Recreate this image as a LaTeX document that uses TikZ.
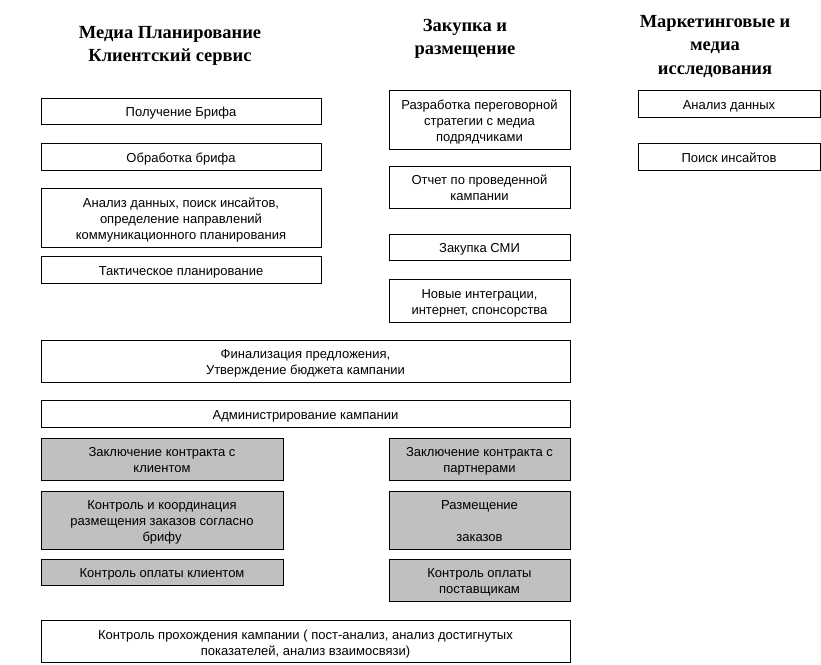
\documentclass[tikz,border=0pt]{standalone}
\usepackage{fontspec}
\setmainfont{Liberation Sans}
\newfontfamily\titlefont{Liberation Serif}
\newcommand\tstrut{\rule{0pt}{15pt}}
\newcommand\bstrut{\rule[-4pt]{0pt}{4pt}}
\begin{document}
\begin{tikzpicture}[x=1pt,y=-1pt,
  box/.style={draw=black,line width=0.8pt,fill=white,rectangle,align=center,inner sep=1pt,
    font=\fontsize{13}{16}\selectfont},
  gbox/.style={box,fill=gray75},
  ttl/.style={align=center,font=\titlefont\bfseries\fontsize{18.5}{23.3}\selectfont}]
\definecolor{gray75}{HTML}{C0C0C0}
\useasboundingbox (0,0) rectangle (821,664);
% titles
\node[ttl] (t1) at (170,46) {Медиа Планирование\\Клиентский сервис};
\node[ttl] (t2) at (465,39) {Закупка и\\размещение};
\node[ttl] (t3) at (715,46.5) {Маркетинговые и\\медиа\\исследования};
% left column
\node[box,minimum width=280pt,minimum height=26pt] (l1) at (181,111) {\tstrut Получение Брифа\bstrut};
\node[box,minimum width=280pt,minimum height=27pt] (l2) at (181,156.5) {\tstrut Обработка брифа\bstrut};
\node[box,minimum width=280pt,minimum height=59pt] (l3) at (181,217.5) {\tstrut Анализ данных, поиск инсайтов,\\определение направлений\\коммуникационного планирования\bstrut};
\node[box,minimum width=280pt,minimum height=27pt] (l4) at (181,269.5) {\tstrut Тактическое планирование\bstrut};
% middle column
\node[box,minimum width=181pt,minimum height=59pt] (m1) at (479.5,119.5) {\tstrut Разработка переговорной\\стратегии с медиа\\подрядчиками\bstrut};
\node[box,minimum width=181pt,minimum height=42pt] (m2) at (479.5,187) {\tstrut Отчет по проведенной\\кампании\bstrut};
\node[box,minimum width=181pt,minimum height=26pt] (m3) at (479.5,247) {\tstrut Закупка СМИ\bstrut};
\node[box,minimum width=181pt,minimum height=43pt] (m4) at (479.5,300.5) {\tstrut Новые интеграции,\\интернет, спонсорства\bstrut};
% right column
\node[box,minimum width=182pt,minimum height=27pt] (r1) at (729,103.5) {\tstrut Анализ данных\bstrut};
\node[box,minimum width=182pt,minimum height=27pt] (r2) at (729,156.5) {\tstrut Поиск инсайтов\bstrut};
% wide boxes
\node[box,minimum width=529pt,minimum height=42pt] (fin) at (305.5,361) {\tstrut Финализация предложения,\\Утверждение бюджета кампании\bstrut};
\node[box,minimum width=529pt,minimum height=27pt] (adm) at (305.5,413.5) {\tstrut Администрирование кампании\bstrut};
% gray boxes left
\node[gbox,minimum width=242pt,minimum height=42pt] (g1) at (162,459) {\tstrut Заключение контракта с\\клиентом\bstrut};
\node[gbox,minimum width=242pt,minimum height=58pt] (g2) at (162,520) {\tstrut Контроль и координация\\размещения заказов согласно\\брифу\bstrut};
\node[gbox,minimum width=242pt,minimum height=26pt] (g3) at (162,572) {\tstrut Контроль оплаты клиентом\bstrut};
% gray boxes right
\node[gbox,minimum width=181pt,minimum height=42pt] (h1) at (479.5,459) {\tstrut Заключение контракта с\\партнерами\bstrut};
\node[gbox,minimum width=181pt,minimum height=58pt] (h2) at (479.5,520) {\tstrut Размещение\\[16pt]заказов\bstrut};
\node[gbox,minimum width=181pt,minimum height=42pt] (h3) at (479.5,580) {\tstrut Контроль оплаты\\поставщикам\bstrut};
% bottom
\node[box,minimum width=529pt,minimum height=42pt] (bot) at (305.5,641.5) {\tstrut Контроль прохождения кампании ( пост-анализ, анализ достигнутых\\показателей, анализ взаимосвязи)\bstrut};
\end{tikzpicture}
\end{document}
